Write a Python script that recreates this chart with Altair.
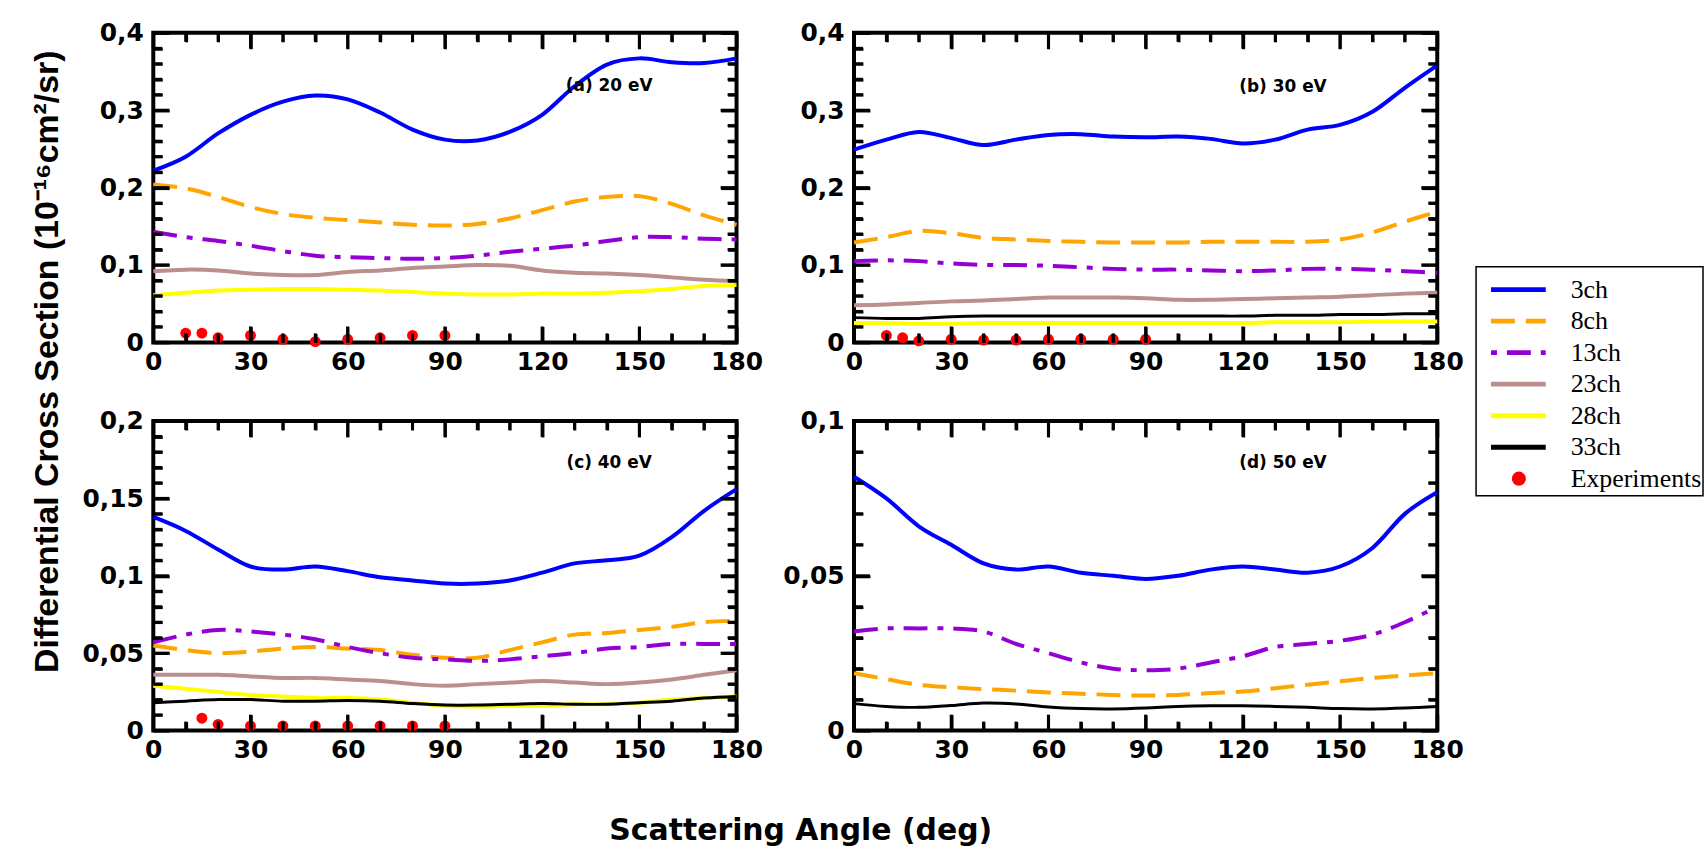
import altair as alt
import pandas as pd

# ---------------- data ----------------
ANGLES = [0, 10, 20, 30, 40, 50, 60, 70, 80, 90, 100, 110, 120, 130, 140, 150, 160, 170, 180]
SERIES = ["3ch", "8ch", "13ch", "23ch", "28ch", "33ch"]
COLORS = ["#0000ff", "#ffa500", "#9400d3", "#bc8f8f", "#ffff00", "#000000"]
EXP_NAME = "Experiments"
EXP_COLOR = "#ff0000"

# (a) 20 eV
A_3CH = [0.222, 0.240, 0.270, 0.294, 0.311, 0.319, 0.314, 0.297, 0.275, 0.262, 0.261, 0.272, 0.294, 0.331, 0.359, 0.367, 0.362, 0.361, 0.367]
A_8CH = [0.204, 0.199, 0.188, 0.175, 0.166, 0.161, 0.158, 0.155, 0.152, 0.151, 0.153, 0.160, 0.171, 0.182, 0.188, 0.189, 0.179, 0.164, 0.152]
A_13CH = [0.143, 0.136, 0.131, 0.125, 0.118, 0.112, 0.110, 0.109, 0.108, 0.109, 0.112, 0.117, 0.121, 0.125, 0.131, 0.136, 0.136, 0.134, 0.133]
A_23CH = [0.092, 0.094, 0.093, 0.089, 0.087, 0.087, 0.091, 0.093, 0.096, 0.098, 0.100, 0.099, 0.093, 0.090, 0.089, 0.087, 0.084, 0.081, 0.079]
A_28CH = [0.061, 0.064, 0.067, 0.068, 0.069, 0.069, 0.068, 0.067, 0.065, 0.063, 0.062, 0.062, 0.063, 0.063, 0.064, 0.066, 0.069, 0.073, 0.074]
A_EXP_X = [10, 15, 20, 30, 40, 50, 60, 70, 80, 90]
A_EXP_Y = [0.012, 0.012, 0.006, 0.009, 0.004, 0.001, 0.004, 0.006, 0.009, 0.009]

# (b) 30 eV
B_3CH = [0.249, 0.262, 0.272, 0.264, 0.255, 0.262, 0.268, 0.269, 0.266, 0.265, 0.266, 0.263, 0.257, 0.262, 0.275, 0.281, 0.298, 0.329, 0.358]
B_8CH = [0.129, 0.136, 0.144, 0.141, 0.135, 0.133, 0.131, 0.130, 0.129, 0.129, 0.129, 0.130, 0.130, 0.130, 0.130, 0.133, 0.142, 0.156, 0.169]
B_13CH = [0.105, 0.106, 0.105, 0.102, 0.100, 0.100, 0.099, 0.097, 0.095, 0.094, 0.094, 0.093, 0.092, 0.093, 0.095, 0.095, 0.094, 0.092, 0.090]
B_23CH = [0.048, 0.049, 0.051, 0.053, 0.054, 0.056, 0.058, 0.058, 0.058, 0.057, 0.055, 0.055, 0.056, 0.057, 0.058, 0.059, 0.061, 0.063, 0.064]
B_28CH = [0.025, 0.025, 0.024, 0.024, 0.025, 0.025, 0.025, 0.025, 0.025, 0.025, 0.025, 0.025, 0.025, 0.026, 0.026, 0.026, 0.027, 0.027, 0.027]
B_33CH = [0.032, 0.031, 0.031, 0.033, 0.034, 0.034, 0.034, 0.034, 0.034, 0.034, 0.034, 0.034, 0.034, 0.035, 0.035, 0.036, 0.036, 0.037, 0.037]
B_EXP_X = [10, 15, 20, 30, 40, 50, 60, 70, 80, 90]
B_EXP_Y = [0.009, 0.006, 0.002, 0.004, 0.003, 0.003, 0.004, 0.004, 0.004, 0.004]

# (c) 40 eV
C_3CH = [0.138, 0.129, 0.117, 0.106, 0.104, 0.106, 0.103, 0.099, 0.097, 0.095, 0.095, 0.097, 0.102, 0.108, 0.110, 0.113, 0.125, 0.142, 0.156]
C_8CH = [0.055, 0.052, 0.050, 0.051, 0.053, 0.054, 0.053, 0.052, 0.049, 0.047, 0.047, 0.052, 0.057, 0.062, 0.063, 0.065, 0.067, 0.070, 0.071]
C_13CH = [0.057, 0.062, 0.065, 0.064, 0.062, 0.059, 0.054, 0.050, 0.047, 0.046, 0.045, 0.046, 0.048, 0.050, 0.053, 0.054, 0.056, 0.056, 0.056]
C_23CH = [0.036, 0.036, 0.036, 0.035, 0.034, 0.034, 0.033, 0.032, 0.030, 0.029, 0.030, 0.031, 0.032, 0.031, 0.030, 0.031, 0.033, 0.036, 0.039]
C_28CH = [0.029, 0.027, 0.025, 0.023, 0.022, 0.021, 0.021, 0.020, 0.018, 0.016, 0.0155, 0.016, 0.016, 0.017, 0.017, 0.018, 0.020, 0.021, 0.022]
C_33CH = [0.018, 0.019, 0.020, 0.020, 0.019, 0.019, 0.0195, 0.019, 0.0175, 0.0165, 0.0165, 0.017, 0.0175, 0.017, 0.017, 0.018, 0.019, 0.021, 0.022]
C_EXP_X = [15, 20, 30, 40, 50, 60, 70, 80, 90]
C_EXP_Y = [0.008, 0.004, 0.003, 0.003, 0.003, 0.003, 0.003, 0.003, 0.003]

# (d) 50 eV
D_3CH = [0.082, 0.075, 0.066, 0.060, 0.054, 0.052, 0.053, 0.051, 0.050, 0.049, 0.050, 0.052, 0.053, 0.052, 0.051, 0.053, 0.059, 0.070, 0.077]
D_8CH = [0.0185, 0.0166, 0.0148, 0.014, 0.0134, 0.0129, 0.0123, 0.0119, 0.0115, 0.0113, 0.0115, 0.0121, 0.0126, 0.0137, 0.0148, 0.0159, 0.017, 0.0178, 0.0185]
D_13CH = [0.032, 0.033, 0.033, 0.033, 0.032, 0.028, 0.025, 0.022, 0.020, 0.0195, 0.020, 0.022, 0.024, 0.027, 0.028, 0.029, 0.031, 0.035, 0.040]
D_33CH = [0.0087, 0.0078, 0.0075, 0.0081, 0.0089, 0.0086, 0.0076, 0.0071, 0.0070, 0.0073, 0.0078, 0.0080, 0.0080, 0.0078, 0.0075, 0.0071, 0.0070, 0.0073, 0.0078]

# tick positions
X_MAJOR = [0, 30, 60, 90, 120, 150, 180]
X_MINOR = [10, 20, 40, 50, 70, 80, 100, 110, 130, 140, 160, 170]
Y_MAJOR_AB = [0, 0.1, 0.2, 0.3, 0.4]
Y_MINOR_AB = [0.02, 0.04, 0.06, 0.08, 0.12, 0.14, 0.16, 0.18, 0.22, 0.24, 0.26, 0.28, 0.32, 0.34, 0.36, 0.38]
Y_MAJOR_C = [0, 0.05, 0.1, 0.15, 0.2]
Y_MINOR_C = [0.01, 0.02, 0.03, 0.04, 0.06, 0.07, 0.08, 0.09, 0.11, 0.12, 0.13, 0.14, 0.16, 0.17, 0.18, 0.19]
Y_MAJOR_D = [0, 0.05, 0.1]
Y_MINOR_D = [0.01, 0.02, 0.03, 0.04, 0.06, 0.07, 0.08, 0.09]

LEG_IDX = [0, 1, 2, 3, 4, 5, 6]

# ---------------- styles ----------------
COLOR_OF = dict(zip(SERIES, COLORS))
DASH = {"8ch": [24, 11], "13ch": [24, 10, 6, 10]}
WIDTH = {"3ch": 4, "8ch": 4, "13ch": 4, "23ch": 4, "28ch": 4, "33ch": 3}
W, H = 586, 311
MAJ, MIN = 16, 9          # tick lengths in pixels (drawn inward)
TICK_FONT = "DejaVu Sans"
TICK_SIZE = 25
Y_TITLE = "Differential Cross Section (10\u207b\u00b9\u2076cm\u00b2/sr)"
X_TITLE = "Scattering Angle (deg)"


def tick_axis(orient, values, length, labels=False, **extra):
    """An axis whose ticks point inward: it is shifted inside by the tick length."""
    kw = dict(orient=orient, values=values, offset=-length, tickSize=length,
              ticks=True, tickWidth=3, tickColor="#000000", tickOpacity=1,
              domain=False, grid=False, labels=labels, title="", zindex=2)
    kw.update(extra)
    return alt.Axis(**kw)


def tick_table(ymax, ymaj, ymin):
    """Segments of the inward ticks on the four sides of a panel."""
    py = ymax / H
    px = 180.0 / W
    rows = []
    for vals, ln in ((X_MAJOR, MAJ), (X_MINOR, MIN)):
        for v in vals:
            rows.append({"tx": v, "tx2": v, "ty": 0.0, "ty2": ln * py})
            rows.append({"tx": v, "tx2": v, "ty": ymax, "ty2": ymax - ln * py})
    for vals, ln in ((ymaj, MAJ), (ymin, MIN)):
        for v in vals:
            rows.append({"tx": 0.0, "tx2": ln * px, "ty": v, "ty2": v})
            rows.append({"tx": 180.0, "tx2": 180.0 - ln * px, "ty": v, "ty2": v})
    return pd.DataFrame(rows)


def panel(curves, exp_x, exp_y, ymax, ymaj, ymin, tag, tag_x, tag_y,
          ytitle=False, xtitle=False):
    xs = alt.Scale(domain=[0, 180], nice=False, zero=False)
    ys = alt.Scale(domain=[0, ymax], nice=False, zero=False)

    xlab = dict(labelFont=TICK_FONT, labelFontWeight="bold", labelFontSize=TICK_SIZE,
                labelColor="black", labelPadding=7, labelFlush=False, labelOverlap=False)
    if xtitle:
        xlab.update(title=X_TITLE, titleFont="DejaVu Sans", titleFontWeight="bold",
                    titleFontSize=30, titleColor="black", titleX=650, titleY=109 + MAJ,
                    titleAlign="center", titleBaseline="alphabetic", titleAngle=0)
    ylab = dict(labelFont=TICK_FONT, labelFontWeight="bold", labelFontSize=TICK_SIZE,
                labelColor="black", labelPadding=10, labelFlush=False, labelOverlap=False,
                labelExpr="replace(toString(datum.value), '.', ',')")
    if ytitle:
        ylab.update(title=Y_TITLE, titleFont="Liberation Sans", titleFontWeight="bold",
                    titleFontSize=34, titleColor="black", titleX=-106 - MAJ, titleY=330,
                    titleAlign="center", titleBaseline="middle", titleAngle=270)

    x_main = tick_axis("bottom", X_MAJOR, MAJ, labels=True, **xlab)
    y_main = tick_axis("left", ymaj, MAJ, labels=True, **ylab)

    main = []
    for name in SERIES:
        if name not in curves:
            continue
        df = pd.DataFrame({"angle": ANGLES, "dcs": curves[name]})
        kw = dict(color=COLOR_OF[name], strokeWidth=WIDTH[name], interpolate="cardinal")
        if name in DASH:
            kw["strokeDash"] = DASH[name]
        main.append(
            alt.Chart(df).mark_line(**kw).encode(
                x=alt.X("angle:Q", scale=xs, axis=x_main),
                y=alt.Y("dcs:Q", scale=ys, axis=y_main),
            )
        )
    if exp_x:
        dfe = pd.DataFrame({"angle": exp_x, "dcs": exp_y})
        main.append(
            alt.Chart(dfe).mark_circle(color=EXP_COLOR, size=120, opacity=1).encode(
                x=alt.X("angle:Q", scale=xs, axis=x_main),
                y=alt.Y("dcs:Q", scale=ys, axis=y_main),
            )
        )
    main.append(
        alt.Chart(tick_table(ymax, ymaj, ymin)).mark_rule(
            color="#000000", strokeWidth=3, opacity=1
        ).encode(
            x=alt.X("tx:Q", scale=xs, axis=x_main),
            x2=alt.X2("tx2"),
            y=alt.Y("ty:Q", scale=ys, axis=y_main),
            y2=alt.Y2("ty2"),
        )
    )
    main.append(
        alt.Chart(pd.DataFrame({"tag": [tag]})).mark_text(
            font="DejaVu Sans", fontWeight="bold", fontSize=17, color="black",
            align="center", baseline="middle",
        ).encode(text="tag:N", x=alt.value(tag_x), y=alt.value(tag_y))
    )
    main_layer = alt.layer(*main)

    anchor = pd.DataFrame({"angle": [0], "dcs": [0]})

    def guide(xax, yax):
        return alt.Chart(anchor).mark_point(opacity=0).encode(
            x=alt.X("angle:Q", scale=xs, axis=xax),
            y=alt.Y("dcs:Q", scale=ys, axis=yax),
        )

    g_minor = guide(tick_axis("bottom", X_MINOR, MIN), tick_axis("left", ymin, MIN))
    g_top = guide(tick_axis("top", X_MAJOR, MAJ), tick_axis("right", ymaj, MAJ))
    g_top_minor = guide(tick_axis("top", X_MINOR, MIN), tick_axis("right", ymin, MIN))

    return alt.layer(main_layer, g_minor, g_top, g_top_minor).resolve_scale(
        x="independent", y="independent"
    ).resolve_axis(
        x="independent", y="independent"
    ).properties(
        width=W, height=H,
        view=alt.ViewBackground(stroke="#000000", strokeWidth=4),
    )


pa = panel({"3ch": A_3CH, "8ch": A_8CH, "13ch": A_13CH, "23ch": A_23CH, "28ch": A_28CH},
           A_EXP_X, A_EXP_Y, 0.4, Y_MAJOR_AB, Y_MINOR_AB, "(a) 20 eV", 458, 53, ytitle=True)
pb = panel({"3ch": B_3CH, "8ch": B_8CH, "13ch": B_13CH, "23ch": B_23CH, "28ch": B_28CH, "33ch": B_33CH},
           B_EXP_X, B_EXP_Y, 0.4, Y_MAJOR_AB, Y_MINOR_AB, "(b) 30 eV", 431, 54)
pc = panel({"3ch": C_3CH, "8ch": C_8CH, "13ch": C_13CH, "23ch": C_23CH, "28ch": C_28CH, "33ch": C_33CH},
           C_EXP_X, C_EXP_Y, 0.2, Y_MAJOR_C, Y_MINOR_C, "(c) 40 eV", 458, 42, xtitle=True)
pd_ = panel({"3ch": D_3CH, "8ch": D_8CH, "13ch": D_13CH, "33ch": D_33CH},
            [], [], 0.1, Y_MAJOR_D, Y_MINOR_D, "(d) 50 eV", 431, 42)

# ---------------- legend ----------------
LEG_H = 230
LEG_Y = alt.Scale(domain=[-0.726, 6.54], reverse=True, nice=False, zero=False)
leg_layers = []
for i, name in zip(LEG_IDX, SERIES):
    kw = dict(color=COLOR_OF[name], strokeWidth=5)
    if name in DASH:
        kw["strokeDash"] = DASH[name]
    if name == "13ch":
        kw["strokeDashOffset"] = 34
    leg_layers.append(
        alt.Chart(pd.DataFrame({"i": [i]})).mark_rule(**kw).encode(
            x=alt.value(15), x2=alt.value(70),
            y=alt.Y("i:Q", scale=LEG_Y, axis=None),
        )
    )
leg_layers.append(
    alt.Chart(pd.DataFrame({"i": [LEG_IDX[6]]})).mark_circle(
        color=EXP_COLOR, size=200, opacity=1
    ).encode(x=alt.value(43), y=alt.Y("i:Q", scale=LEG_Y, axis=None))
)
leg_layers.append(
    alt.Chart(pd.DataFrame({"i": LEG_IDX, "label": SERIES + [EXP_NAME]})).mark_text(
        align="left", baseline="middle", font="Liberation Serif", fontSize=26, color="black"
    ).encode(x=alt.value(95), y=alt.Y("i:Q", scale=LEG_Y, axis=None), text="label:N")
)
legend = alt.layer(*leg_layers).properties(
    width=228, height=LEG_H,
    view=alt.ViewBackground(stroke="#000000", strokeWidth=1.5),
)

spacer = alt.Chart(pd.DataFrame({"s": [0]})).mark_point(opacity=0).encode(
    x=alt.value(0), y=alt.value(0)
).properties(width=228, height=235,
             view=alt.ViewBackground(stroke="transparent", strokeWidth=0))

grid = alt.concat(pa, pb, pc, pd_, columns=2, spacing={"row": 79, "column": 118},
                  bounds="flush")
right_col = alt.vconcat(spacer, legend, spacing=0, bounds="flush")

chart = alt.hconcat(grid, right_col, spacing=7).properties(
    padding={"left": 28, "top": 17, "right": 0, "bottom": 0}
).configure(background="white")

chart.save("out.html", embed_options={"renderer": "svg", "actions": False})
